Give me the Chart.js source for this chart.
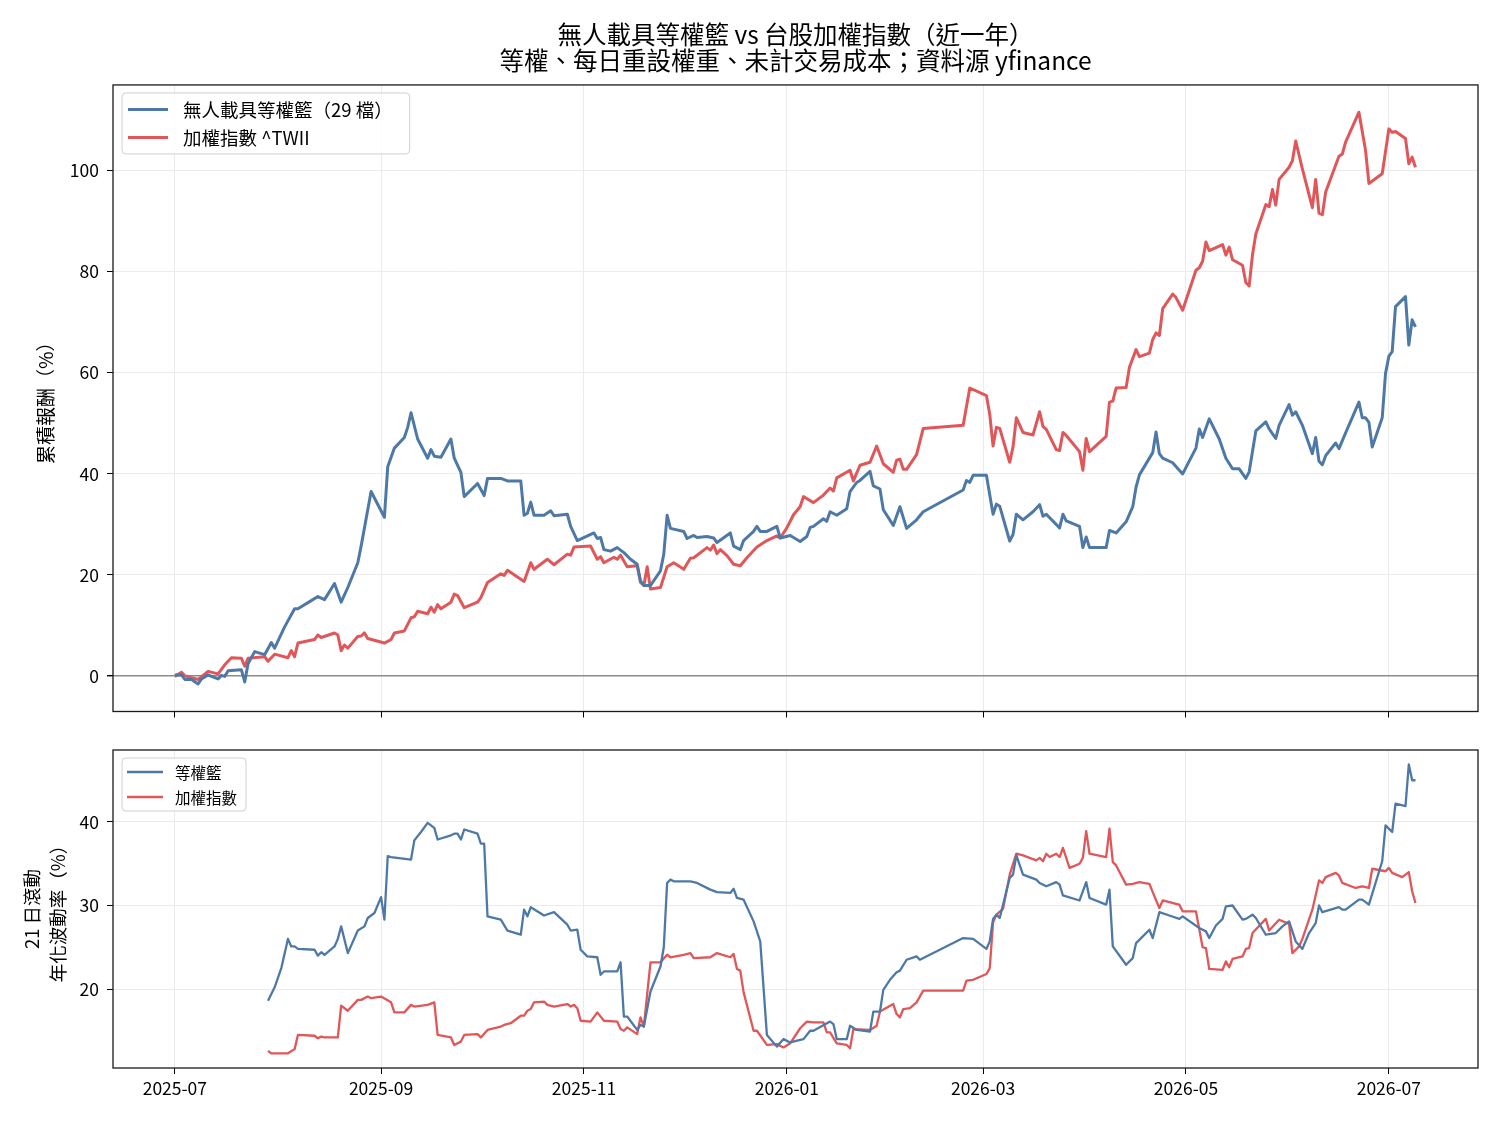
<!DOCTYPE html>
<html>
<head>
<meta charset="utf-8">
<script src="https://cdn.jsdelivr.net/npm/chart.js@4.4.1/dist/chart.umd.min.js"></script>
<style>
  html, body { margin: 0; background: #fff; }
  #wrap { position: relative; width: 1500px; height: 1125px; }
  #top { position: absolute; left: 0; top: 0; }
  #bottom { position: absolute; left: 0; top: 730px; }
</style>
</head>
<body>
<div id="wrap">
  <canvas id="top" width="1500" height="730"></canvas>
  <canvas id="bottom" width="1500" height="395"></canvas>
</div>
<script>
"use strict";

// x values are calendar days counted from START_DATE
const START_DATE = "2025-07-01";
const tickDates = ["2025-07-01", "2025-09-01", "2025-11-01", "2026-01-01", "2026-03-01", "2026-05-01", "2026-07-01"];
const tickLabels = ["2025-07", "2025-09", "2025-11", "2026-01", "2026-03", "2026-05", "2026-07"];

const titleLines = ["無人載具等權籃 vs 台股加權指數（近一年）", "等權、每日重設權重、未計交易成本；資料源 yfinance"];
const retLabels = ["無人載具等權籃（29 檔）", "加權指數 ^TWII"];
const volLabels = ["等權籃", "加權指數"];

// cumulative return (%), [day, value]
const basketReturn = [[0,0.2],[2,0.2],[3,-0.7],[5,-0.7],[7,-1.6],[8,-0.6],[10,0.2],[11,-0.1],[13,-0.6],[14,0.1],[15,-0.1],[16,1.0],[20,1.2],[21,-1.2],[22,2.4],[24,4.8],[27,4.2],[29,6.6],[30,5.5],[33,9.7],[36,13.3],[37,13.3],[41,14.9],[43,15.7],[45,15.1],[48,18.3],[50,14.6],[52,17.5],[55,22.4],[56,25.7],[59,36.5],[63,31.4],[64,41.4],[66,45.1],[69,47.2],[70,49.2],[71,52.1],[73,46.9],[76,43.1],[77,44.8],[78,43.5],[80,43.3],[83,46.9],[84,43.1],[86,40.3],[87,35.5],[91,38.1],[93,35.7],[94,39.1],[98,39.1],[100,38.6],[104,38.6],[105,31.8],[106,32.2],[107,34.4],[108,31.8],[111,31.8],[113,32.7],[114,31.7],[118,32.0],[119,29.6],[121,26.8],[126,28.3],[127,27.2],[128,27.4],[129,25.0],[131,24.7],[133,25.4],[135,24.4],[137,23.1],[139,22.1],[140,18.8],[141,17.9],[143,17.9],[146,20.8],[147,24.1],[148,31.8],[149,29.2],[153,28.6],[154,27.2],[156,27.8],[157,27.4],[160,27.6],[162,27.3],[163,26.4],[167,28.3],[168,25.7],[170,25.0],[171,26.8],[174,28.6],[175,29.6],[176,28.6],[178,28.6],[181,29.6],[182,27.3],[185,27.8],[188,26.6],[190,27.6],[191,29.4],[192,29.6],[195,31.1],[196,30.6],[197,32.5],[199,31.8],[202,33.1],[203,36.5],[205,38.3],[206,38.7],[209,40.5],[210,37.6],[212,37.0],[213,32.9],[216,29.8],[218,33.5],[220,29.2],[223,30.9],[225,32.5],[237,36.8],[238,38.7],[239,38.3],[240,39.7],[244,39.7],[246,32.0],[247,34.0],[248,33.6],[251,26.7],[252,28.0],[253,32.0],[255,30.9],[258,32.5],[260,33.9],[261,31.6],[262,32.0],[266,29.3],[267,32.0],[268,30.7],[272,29.6],[273,25.4],[274,27.5],[275,25.4],[280,25.4],[281,28.8],[283,28.3],[286,30.5],[288,33.5],[289,37.4],[290,39.8],[294,44.2],[295,48.3],[296,44.0],[297,43.1],[300,42.2],[302,40.7],[303,40.0],[307,45.1],[308,48.9],[309,47.2],[311,50.9],[314,46.9],[316,43.1],[318,41.0],[320,41.0],[322,39.1],[323,40.4],[325,48.5],[328,50.3],[329,48.9],[331,47.0],[332,49.6],[335,53.7],[336,51.6],[337,52.3],[339,49.6],[342,44.0],[343,47.2],[344,42.5],[345,41.8],[346,43.6],[349,46.1],[350,45.0],[352,48.1],[356,54.2],[357,51.1],[358,51.1],[359,50.2],[360,45.3],[363,51.1],[364,59.9],[365,63.3],[366,64.2],[367,73.1],[370,75.1],[371,65.5],[372,70.5],[373,69.1]];

const twiiReturn = [[0,-0.1],[2,0.7],[3,0.0],[7,-0.7],[10,0.9],[13,0.4],[15,2.2],[17,3.6],[20,3.5],[21,1.9],[22,3.5],[27,3.8],[28,2.9],[30,4.3],[34,3.6],[35,5.0],[36,3.8],[37,6.5],[42,7.2],[43,8.1],[44,7.6],[48,8.5],[49,8.1],[50,5.0],[51,6.1],[52,5.5],[55,7.8],[56,7.9],[57,8.5],[58,7.4],[63,6.5],[65,7.2],[66,8.5],[69,8.9],[71,11.5],[72,11.7],[73,12.8],[76,12.3],[77,13.6],[78,12.6],[79,14.1],[80,13.3],[83,14.6],[84,16.2],[85,15.9],[87,13.5],[91,14.6],[92,15.5],[94,18.5],[98,20.2],[99,19.9],[100,20.9],[105,18.7],[107,22.4],[108,21.1],[112,23.1],[114,22.0],[118,24.1],[119,23.9],[120,25.5],[125,25.7],[127,23.1],[128,23.6],[129,22.4],[132,23.5],[133,23.1],[134,23.9],[136,21.6],[139,21.8],[140,18.5],[141,17.9],[142,21.6],[143,17.2],[146,17.5],[148,21.6],[150,22.4],[153,21.1],[155,23.3],[156,23.4],[160,25.4],[161,24.9],[162,25.9],[163,24.2],[164,25.0],[166,23.8],[168,22.1],[170,21.8],[172,23.4],[175,25.5],[178,26.8],[181,27.7],[182,27.3],[184,29.3],[186,31.9],[188,33.5],[189,35.5],[192,34.3],[195,35.8],[197,37.2],[198,36.6],[199,39.2],[203,40.7],[204,38.6],[206,41.7],[209,42.3],[211,45.5],[213,42.0],[216,40.3],[217,42.7],[218,42.9],[219,40.9],[220,40.9],[223,43.8],[225,49.0],[237,49.6],[239,57.0],[244,55.5],[245,51.8],[246,45.5],[247,49.2],[248,49.0],[251,42.3],[252,45.3],[253,51.1],[255,48.2],[258,47.7],[260,52.3],[261,49.4],[262,48.8],[265,44.8],[266,44.6],[267,48.2],[268,47.6],[272,44.4],[273,40.7],[274,47.0],[275,44.4],[280,47.4],[281,54.2],[282,54.4],[283,57.0],[286,57.1],[287,61.1],[289,64.6],[290,63.2],[293,63.9],[294,66.6],[295,67.9],[296,67.4],[297,72.7],[300,75.6],[301,74.9],[303,72.4],[307,80.3],[308,80.8],[309,82.1],[310,85.9],[311,84.2],[315,85.4],[316,83.3],[317,84.9],[318,82.4],[321,81.3],[322,77.9],[323,77.2],[324,83.4],[325,87.5],[328,93.3],[329,92.9],[330,96.3],[331,93.2],[332,98.3],[335,100.7],[336,102.0],[337,105.9],[339,100.4],[342,92.7],[343,98.3],[344,91.6],[345,91.3],[346,95.8],[350,102.9],[351,103.3],[352,105.7],[356,111.6],[358,104.0],[359,97.5],[363,99.4],[365,108.3],[366,107.6],[367,107.8],[370,106.4],[371,101.4],[372,102.7],[373,100.7]];

// 21-day rolling annualised volatility (%), [day, value]
const basketVol = [[28,18.6],[30,20.2],[32,22.5],[34,26.0],[35,25.1],[36,25.1],[37,24.8],[42,24.7],[43,24.0],[44,24.4],[45,24.1],[48,25.1],[49,26.0],[50,27.5],[52,24.3],[55,27.0],[57,27.5],[58,28.5],[60,29.1],[62,31.0],[63,28.3],[64,35.9],[65,35.8],[71,35.5],[72,37.8],[74,38.8],[76,39.9],[78,39.3],[79,37.9],[83,38.4],[84,38.6],[85,38.6],[86,37.9],[87,39.1],[91,38.6],[92,37.4],[93,37.4],[94,28.7],[98,28.3],[100,27.0],[104,26.5],[105,29.5],[106,28.7],[107,29.8],[111,28.8],[114,29.2],[118,27.7],[119,27.0],[121,27.1],[122,24.7],[124,23.9],[127,23.8],[128,21.7],[129,22.1],[133,22.1],[134,23.2],[135,16.7],[136,16.7],[139,15.1],[140,15.7],[141,15.5],[143,19.7],[146,22.7],[147,25.0],[148,32.7],[149,33.1],[150,32.9],[155,32.9],[157,32.7],[161,31.9],[163,31.6],[167,31.5],[168,32.0],[169,30.9],[171,30.7],[174,28.1],[176,25.7],[178,14.5],[181,13.1],[183,14.0],[185,13.6],[188,13.9],[189,14.0],[191,15.0],[192,15.0],[197,16.1],[198,15.8],[199,14.0],[202,14.0],[203,15.6],[205,15.1],[209,14.9],[210,17.3],[212,17.3],[213,19.9],[215,21.1],[217,22.0],[218,22.2],[220,23.5],[223,23.9],[224,23.5],[237,26.1],[240,26.0],[244,24.8],[245,25.7],[246,28.4],[247,28.9],[248,28.5],[251,33.3],[252,33.7],[253,36.0],[255,33.7],[259,33.1],[260,32.7],[262,32.3],[265,32.8],[266,32.5],[267,31.2],[272,30.6],[274,32.8],[275,30.9],[280,30.1],[281,31.9],[282,25.1],[286,22.9],[288,23.7],[289,25.5],[293,27.1],[294,26.1],[296,29.2],[299,28.8],[302,28.4],[303,28.7],[308,27.3],[310,26.9],[311,26.1],[313,27.6],[315,28.4],[316,29.9],[318,30.0],[321,28.3],[322,28.4],[324,28.9],[325,28.5],[328,26.5],[331,26.7],[333,27.5],[335,28.1],[337,25.7],[339,24.8],[341,26.7],[343,27.9],[344,30.0],[345,29.2],[350,29.8],[351,29.5],[352,29.5],[356,30.7],[357,30.7],[359,30.1],[363,35.3],[364,39.6],[366,38.8],[367,42.2],[370,41.9],[371,46.9],[372,45.0],[373,45.0]];

const twiiVol = [[28,12.6],[29,12.3],[34,12.3],[36,12.8],[37,14.5],[42,14.4],[43,14.1],[44,14.3],[45,14.2],[49,14.2],[50,18.0],[52,17.4],[55,18.7],[56,18.7],[58,19.1],[59,18.9],[62,19.1],[65,18.4],[66,17.2],[69,17.2],[71,18.1],[72,17.9],[76,18.1],[78,18.4],[79,14.5],[83,14.2],[84,13.3],[86,13.7],[87,14.5],[91,14.6],[92,14.2],[94,15.1],[98,15.5],[99,15.7],[101,15.9],[104,16.8],[105,16.8],[106,17.4],[107,17.6],[108,18.4],[111,18.5],[112,18.1],[114,17.9],[118,18.2],[119,17.9],[120,18.1],[121,17.7],[122,16.2],[125,16.1],[127,17.2],[129,16.2],[133,16.1],[134,15.2],[135,15.0],[136,15.4],[139,14.6],[140,16.6],[141,15.5],[143,23.2],[146,23.2],[148,24.1],[149,23.8],[153,24.1],[155,24.3],[156,23.7],[161,23.8],[163,24.3],[167,23.8],[168,24.2],[169,22.4],[170,22.2],[171,19.6],[174,15.0],[175,15.0],[178,13.3],[181,13.4],[183,13.0],[185,13.5],[188,15.3],[190,16.1],[192,16.0],[195,16.0],[196,14.8],[197,14.8],[199,13.5],[202,13.3],[203,12.9],[204,15.2],[209,15.1],[211,15.6],[212,17.3],[216,18.2],[217,17.0],[218,16.6],[219,17.6],[221,17.7],[223,18.4],[225,19.8],[237,19.8],[238,21.0],[240,21.1],[244,21.8],[245,22.5],[246,28.0],[247,28.9],[249,29.6],[251,33.7],[253,36.2],[255,36.0],[259,35.4],[260,35.7],[261,35.3],[262,36.2],[263,35.8],[265,36.2],[266,35.8],[267,36.9],[269,34.5],[272,35.0],[273,35.7],[274,38.9],[275,36.2],[280,35.8],[281,39.2],[282,35.2],[283,34.8],[286,32.5],[288,32.6],[290,32.8],[293,32.6],[294,31.6],[296,29.7],[297,30.6],[301,30.2],[302,30.1],[303,29.3],[307,29.3],[309,25.0],[310,24.9],[311,22.4],[315,22.3],[316,23.3],[317,22.6],[318,23.6],[321,23.9],[322,24.8],[323,24.9],[324,26.7],[328,28.4],[329,27.0],[332,28.3],[335,27.8],[336,24.3],[338,25.1],[339,26.0],[342,29.5],[344,33.0],[345,32.7],[346,33.4],[349,33.9],[350,33.6],[351,32.7],[355,32.1],[357,32.3],[359,32.1],[360,34.4],[364,34.1],[365,34.5],[366,33.9],[369,33.4],[371,34.0],[372,31.7],[373,30.3]];

const BLUE = "#4e79a7";
const RED = "#e15759";
const GRID = "#ebebeb";
const CJK = '"Noto Sans CJK TC", "Noto Sans", sans-serif';

const dayOf = (s) => (Date.parse(s) - Date.parse(START_DATE)) / 86400000;
const tickDays = tickDates.map(dayOf);

Chart.defaults.font.family = CJK;
Chart.defaults.color = "#000";

// black frame on all four sides, like matplotlib spines
const frame = {
  id: "frame",
  afterDatasetsDraw(chart) {
    const { ctx, chartArea: a } = chart;
    ctx.save();
    ctx.strokeStyle = "#1a1a1a";
    ctx.lineWidth = 1.3;
    ctx.strokeRect(a.left, a.top, a.right - a.left, a.bottom - a.top);
    ctx.restore();
  },
};

// legend drawn inside the plot, upper left, with a rounded box
const boxLegend = {
  id: "boxLegend",
  afterDraw(chart, args, o) {
    const { ctx, chartArea: a } = chart;
    const items = chart.data.datasets;
    ctx.save();
    ctx.font = `${o.fontSize}px ${CJK}`;
    const textW = Math.max(...items.map((d) => ctx.measureText(d.label).width));
    const x = a.left + o.dx, y = a.top + o.dy;
    const w = o.padL + o.lineLen + o.gap + textW + o.padR;
    const h = o.padT * 2 + o.rowH * items.length;
    ctx.beginPath();
    ctx.roundRect(x, y, w, h, 4);
    ctx.fillStyle = "rgba(255,255,255,0.85)";
    ctx.fill();
    ctx.strokeStyle = "#d0d0d0";
    ctx.lineWidth = 1;
    ctx.stroke();
    items.forEach((d, i) => {
      const cy = y + o.padT + o.rowH * (i + 0.5);
      ctx.beginPath();
      ctx.moveTo(x + o.padL, cy);
      ctx.lineTo(x + o.padL + o.lineLen, cy);
      ctx.strokeStyle = d.borderColor;
      ctx.lineWidth = d.borderWidth;
      ctx.stroke();
      ctx.fillStyle = "#000";
      ctx.textBaseline = "middle";
      ctx.fillText(d.label, x + o.padL + o.lineLen + o.gap, cy + 1);
    });
    ctx.restore();
  },
};

function xAxis(showLabels) {
  return {
    type: "linear",
    min: -18.6,
    max: 391.8,
    afterBuildTicks: (s) => { s.ticks = tickDays.map((v) => ({ value: v })); },
    ticks: {
      display: showLabels,
      autoSkip: false,
      maxRotation: 0,
      padding: 4,
      font: { size: 17.5 },
      callback: (v, i) => tickLabels[i],
    },
    grid: { color: GRID, tickColor: "#000", tickLength: 6 },
    border: { display: false },
    afterFit: (s) => { s.height = showLabels ? 57 : 11; },
  };
}

function line(label, data, color, width) {
  return {
    label, data,
    borderColor: color,
    borderWidth: width,
    pointRadius: 0,
    tension: 0,
    fill: false,
    borderJoinStyle: "round",
  };
}

new Chart(document.getElementById("top"), {
  type: "line",
  data: {
    datasets: [
      line(retLabels[0], basketReturn, BLUE, 3),
      line(retLabels[1], twiiReturn, RED, 3),
    ],
  },
  options: {
    responsive: false,
    animation: false,
    events: [],
    layout: { padding: { left: 0, right: 22, top: 0, bottom: 0 } },
    scales: {
      x: xAxis(false),
      y: {
        min: -7.05,
        max: 117,
        ticks: { stepSize: 20, includeBounds: false, padding: 8, font: { size: 17.5 } },
        grid: {
          color: (c) => (c.tick && c.tick.value === 0 ? "#8c8c8c" : GRID),
          lineWidth: (c) => (c.tick && c.tick.value === 0 ? 1.4 : 1),
          tickColor: "#000",
          tickLength: 6,
        },
        border: { display: false },
        title: { display: true, text: "累積報酬（%）", font: { size: 19, lineHeight: 1.2 }, padding: { top: 34, bottom: 0 } },
        afterFit: (s) => { s.width = 113; },
      },
    },
    plugins: {
      legend: { display: false },
      tooltip: { enabled: false },
      title: {
        display: true,
        fullSize: false,
        text: titleLines,
        color: "#000",
        font: { size: 24.5, weight: "normal", lineHeight: 1.06 },
        padding: { top: 22, bottom: 11 },
      },
      boxLegend: { dx: 9, dy: 8, fontSize: 18.5, padL: 6, lineLen: 40, gap: 15, padR: 17, padT: 2.5, rowH: 28 },
    },
  },
  plugins: [frame, boxLegend],
});

new Chart(document.getElementById("bottom"), {
  type: "line",
  data: {
    datasets: [
      line(volLabels[0], basketVol, BLUE, 2.3),
      line(volLabels[1], twiiVol, RED, 2.3),
    ],
  },
  options: {
    responsive: false,
    animation: false,
    events: [],
    layout: { padding: { left: 0, right: 22, top: 20, bottom: 0 } },
    scales: {
      x: xAxis(true),
      y: {
        min: 10.54,
        max: 48.62,
        ticks: { stepSize: 10, includeBounds: false, padding: 8, font: { size: 17.5 } },
        grid: { color: GRID, tickColor: "#000", tickLength: 6 },
        border: { display: false },
        title: { display: true, text: ["21 日滾動", "年化波動率（%）"], font: { size: 18.5, lineHeight: 1.4 }, padding: { top: 19, bottom: 0 } },
        afterFit: (s) => { s.width = 113; },
      },
    },
    plugins: {
      legend: { display: false },
      tooltip: { enabled: false },
      boxLegend: { dx: 9, dy: 8, fontSize: 15.5, padL: 5, lineLen: 36, gap: 12, padR: 9, padT: 1.5, rowH: 25 },
    },
  },
  plugins: [frame, boxLegend],
});
</script>
</body>
</html>
